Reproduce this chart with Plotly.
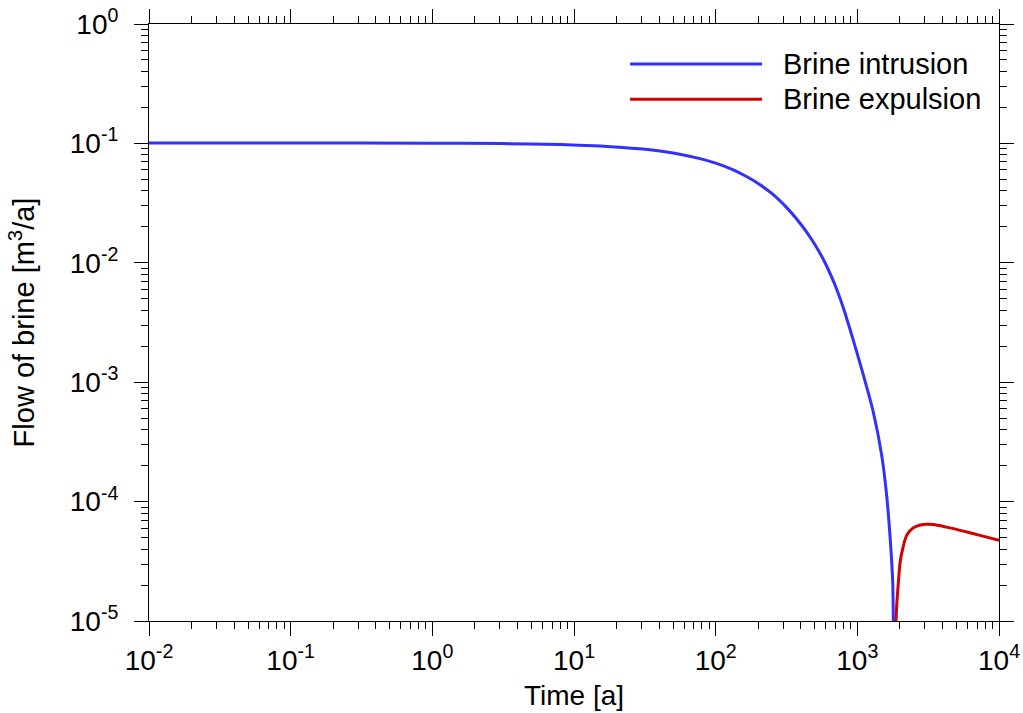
import plotly.graph_objects as go

# Data
t_intrusion = [0.01, 0.1, 1, 3, 8, 15.3, 22, 34.4, 50, 77.5, 100, 133, 165, 205.6, 255, 317,
               373, 439, 500, 575, 659, 715, 796, 936, 1102, 1297, 1485, 1611, 1719, 1777,
               1795, 1805]
q_intrusion = [0.101, 0.101, 0.1005, 0.0997, 0.0978, 0.095, 0.0925, 0.0884, 0.083, 0.0745,
               0.0683, 0.0600, 0.0528, 0.0451, 0.0372, 0.0290, 0.0233, 0.0181, 0.0143, 0.0107,
               0.0076, 0.0060, 0.0042, 0.00225, 0.00115, 5.6e-4, 2.45e-4, 1.12e-4, 4.3e-5,
               2.1e-5, 1.0e-5, 3e-6]

t_expulsion = [1860, 1875, 1900, 1946, 2000, 2056, 2229, 2483, 2923, 3437, 4272, 5598, 7345, 10000]
q_expulsion = [4e-6, 1.0e-5, 1.4e-5, 2.06e-5, 3.03e-5, 3.68e-5, 5.21e-5, 6.04e-5, 6.44e-5,
               6.43e-5, 6.11e-5, 5.66e-5, 5.21e-5, 4.73e-5]

x_exp = [-2, -1, 0, 1, 2, 3, 4]
y_exp = [-5, -4, -3, -2, -1, 0]

series_names = ["Brine intrusion", "Brine expulsion"]
series_colors = ["#3030ff", "#d40000"]

FONT = "Liberation Sans, Arial, sans-serif"

fig = go.Figure()
fig.add_trace(go.Scatter(x=t_intrusion, y=q_intrusion, mode="lines",
                         line=dict(color=series_colors[0], width=3, shape="spline", smoothing=0.7),
                         name=series_names[0], showlegend=False))
fig.add_trace(go.Scatter(x=t_expulsion, y=q_expulsion, mode="lines",
                         line=dict(color=series_colors[1], width=3, shape="spline", smoothing=0.8),
                         name=series_names[1], showlegend=False))

def minor_vals(exps):
    vals = []
    for e in exps[:-1]:
        for m in range(2, 10):
            vals.append(m * 10.0 ** e)
    return vals

def tick_text(exps):
    return ["10<sup>%d</sup>" % e for e in exps]

axis_common = dict(
    type="log",
    automargin=False,
    showgrid=False,
    zeroline=False,
    showline=True,
    linecolor="black",
    linewidth=1,
    mirror="allticks",
    ticks="outside",
    ticklen=14,
    tickwidth=1,
    tickcolor="black",
    tickfont=dict(family=FONT, size=28, color="black"),
)

fig.update_xaxes(
    **axis_common,
    range=[x_exp[0], x_exp[-1]],
    tickmode="array",
    tickvals=[10.0 ** e for e in x_exp],
    ticktext=tick_text(x_exp),
    ticklabelstandoff=0,
    minor=dict(ticks="outside", ticklen=7, tickwidth=1, tickcolor="black",
               tickmode="array", tickvals=minor_vals(x_exp), showgrid=False),
    title_text="Time [a]",
    title_font=dict(family=FONT, size=28, color="black"),
    title_standoff=10,
)
fig.update_yaxes(
    **axis_common,
    range=[y_exp[0], y_exp[-1]],
    tickmode="array",
    tickvals=[10.0 ** e for e in y_exp],
    ticktext=tick_text(y_exp),
    ticklabelstandoff=10,
    minor=dict(ticks="outside", ticklen=7, tickwidth=1, tickcolor="black",
               tickmode="array", tickvals=minor_vals(y_exp), showgrid=False),
    title_text="Flow of brine [m<sup>3</sup>/a]",
    title_font=dict(family=FONT, size=29, color="black"),
    title_standoff=26,
)

# Manual legend (long line samples as in the reference)
legend_y = [0.933, 0.874]
for name, color, yy in zip(series_names, series_colors, legend_y):
    fig.add_shape(type="line", xref="paper", yref="paper", x0=0.566, x1=0.7212, y0=yy, y1=yy,
                  line=dict(color=color, width=3))
    fig.add_annotation(xref="paper", yref="paper", x=0.743, y=yy, text=name, showarrow=False,
                       xanchor="left", yanchor="middle",
                       font=dict(family=FONT, size=29, color="black"))

fig.update_layout(
    width=1023, height=713,
    margin=dict(l=149, r=24, t=24, b=92),
    paper_bgcolor="white", plot_bgcolor="white",
    font=dict(family=FONT, color="black"),
)

fig.write_html("out.html")
